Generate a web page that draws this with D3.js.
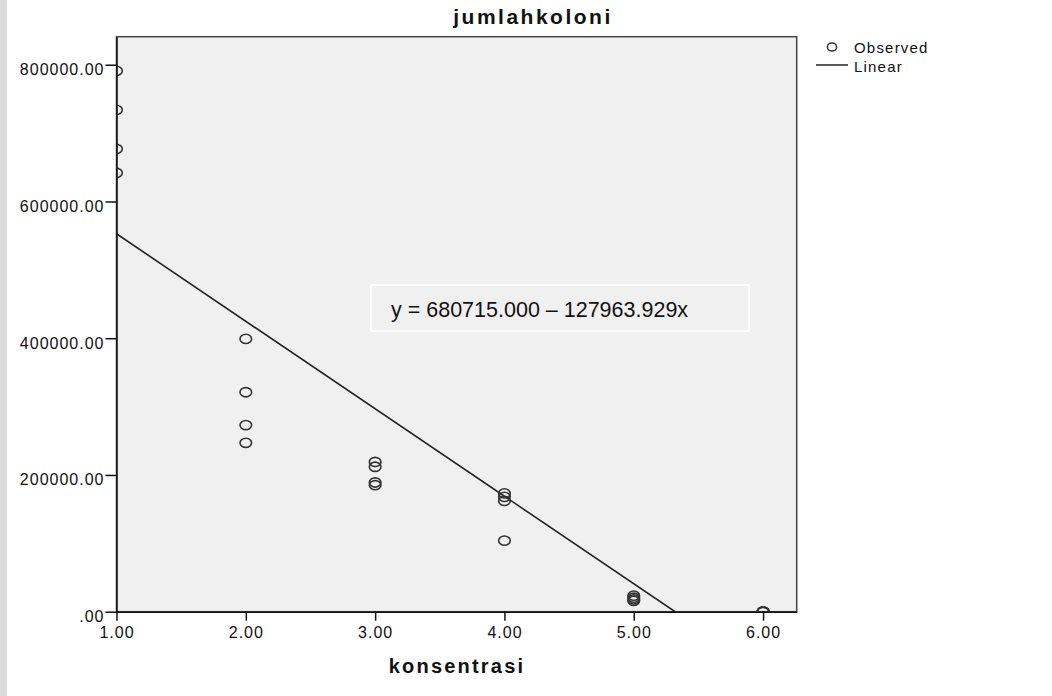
<!DOCTYPE html>
<html>
<head>
<meta charset="utf-8">
<script src="https://cdn.jsdelivr.net/npm/d3@7"></script>
<style>
  body { margin: 0; background: #fff; }
  svg { display: block; }
  text { font-family: "Liberation Sans", Arial, sans-serif; fill: #111; }
</style>
</head>
<body>
<svg id="chart" width="1052" height="696"></svg>
<script>
// konsentrasi vs jumlahkoloni, 4 replicates per level
const konsentrasi = [1, 1, 1, 1, 2, 2, 2, 2, 3, 3, 3, 3, 4, 4, 4, 4, 5, 5, 5, 5, 6, 6, 6, 6];
const jumlahkoloni = [
  791000, 734000, 677000, 642000,
  399000, 321000, 273000, 247000,
  219000, 212000, 189000, 185000,
  173000, 168000, 162000, 104000,
  23500, 20500, 18000, 16000,
  0, 0, 0, 0
];
const xTicks = [1, 2, 3, 4, 5, 6];
const yTicks = [0, 200000, 400000, 600000, 800000];
const coef = [680715.000, -127963.929]; // intercept, slope
const legendItems = ["Observed", "Linear"];

const svg = d3.select("#chart");
const plotLeft = 116.5, plotRight = 796.7, plotTop = 36.7, plotBottom = 611.7;

const x = d3.scaleLinear().domain([1, 6.26]).range([plotLeft, plotRight]);
const y = d3.scaleLinear().domain([0, 841000]).range([plotBottom, plotTop]);

// grey strip on the left page edge
svg.append("rect").attr("x", 0).attr("y", 0).attr("width", 7).attr("height", 696).attr("fill", "#dcdcdc");

svg.append("defs").append("clipPath").attr("id", "plotclip")
  .append("rect").attr("x", plotLeft).attr("y", plotTop)
  .attr("width", plotRight - plotLeft).attr("height", plotBottom - plotTop);

svg.append("rect")
  .attr("x", plotLeft).attr("y", plotTop)
  .attr("width", plotRight - plotLeft).attr("height", plotBottom - plotTop)
  .attr("fill", "#f0f0f0")
  .attr("stroke", "#444").attr("stroke-width", 1.5);

const plot = svg.append("g").attr("clip-path", "url(#plotclip)");

// fit line
const fit = d => coef[0] + coef[1] * d;
const xEnd = -coef[0] / coef[1];
plot.append("line")
  .attr("x1", x(1)).attr("y1", y(fit(1)))
  .attr("x2", x(xEnd)).attr("y2", y(fit(xEnd)))
  .attr("stroke", "#222").attr("stroke-width", 1.6);

// observed points
plot.selectAll("ellipse.obs")
  .data(konsentrasi.map((k, i) => ({ k, v: jumlahkoloni[i] })))
  .join("ellipse")
  .attr("class", "obs")
  .attr("cx", d => x(d.k)).attr("cy", d => y(d.v))
  .attr("rx", 5.8).attr("ry", 4.6)
  .attr("fill", "none").attr("stroke", "#333").attr("stroke-width", 1.6);

// axes
const xAxis = svg.append("g")
  .attr("transform", `translate(0,${plotBottom})`)
  .call(d3.axisBottom(x).tickValues(xTicks).tickFormat(d3.format(".2f"))
    .tickSize(9).tickSizeOuter(0).tickPadding(6));
const yAxis = svg.append("g")
  .attr("transform", `translate(${plotLeft},0)`)
  .call(d3.axisLeft(y).tickValues(yTicks).tickFormat(d => d === 0 ? ".00" : d3.format(".2f")(d))
    .tickSize(11).tickSizeOuter(0).tickPadding(1));

[xAxis, yAxis].forEach(a => {
  a.select(".domain").attr("stroke", "#111").attr("stroke-width", 1.5);
  a.selectAll(".tick line").attr("stroke", "#111").attr("stroke-width", 1.5);
  a.selectAll(".tick text")
    .attr("font-family", "Liberation Sans, Arial, sans-serif")
    .attr("font-size", 16).attr("letter-spacing", 1).attr("fill", "#111");
});
yAxis.selectAll(".tick text").attr("dy", "0.62em");

// equation box
svg.append("rect")
  .attr("x", 371).attr("y", 285).attr("width", 378).attr("height", 46)
  .attr("fill", "none").attr("stroke", "#fff").attr("stroke-width", 1.5);
svg.append("text")
  .attr("x", 391).attr("y", 317)
  .attr("font-size", 21.5)
  .text(`y = ${coef[0].toFixed(3)} \u2013 ${Math.abs(coef[1]).toFixed(3)}x`);

// title and axis label
svg.append("text")
  .attr("x", 533).attr("y", 24)
  .attr("text-anchor", "middle")
  .attr("font-size", 21).attr("font-weight", "bold").attr("letter-spacing", 2.5)
  .text("jumlahkoloni");
svg.append("text")
  .attr("x", 457).attr("y", 673)
  .attr("text-anchor", "middle")
  .attr("font-size", 20).attr("font-weight", "bold").attr("letter-spacing", 2.2)
  .text("konsentrasi");

// legend
const legend = svg.append("g");
legend.append("ellipse")
  .attr("cx", 832).attr("cy", 47).attr("rx", 4.6).attr("ry", 4)
  .attr("fill", "none").attr("stroke", "#333").attr("stroke-width", 1.5);
legend.append("line")
  .attr("x1", 816).attr("x2", 848).attr("y1", 65).attr("y2", 65)
  .attr("stroke", "#222").attr("stroke-width", 1.5);
legend.selectAll("text.leg")
  .data(legendItems)
  .join("text")
  .attr("class", "leg")
  .attr("x", 854).attr("y", (d, i) => 53 + i * 18.5)
  .attr("font-size", 15).attr("letter-spacing", 1.2)
  .text(d => d);
</script>
</body>
</html>
